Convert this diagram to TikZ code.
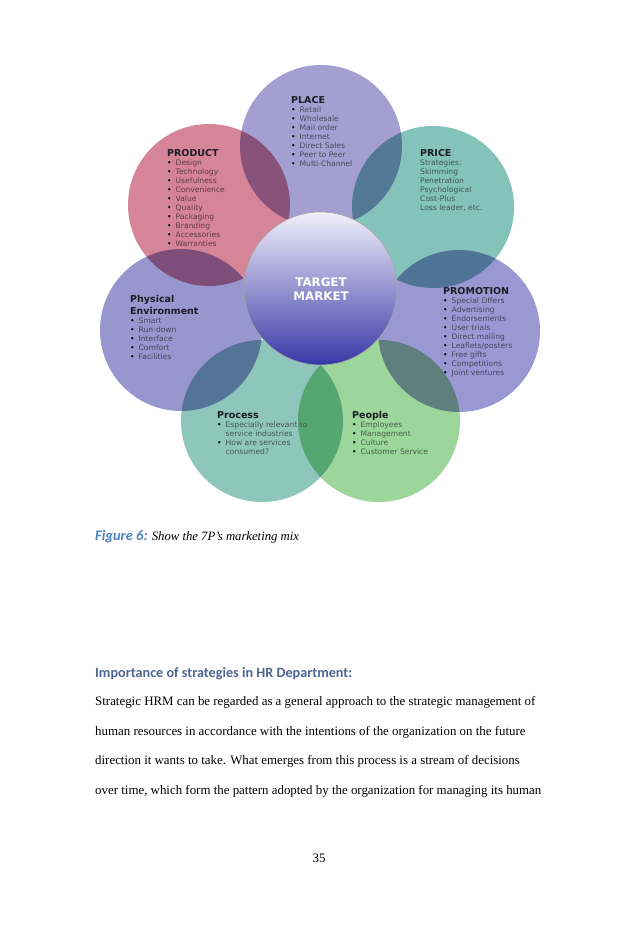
\documentclass[tikz,border=0pt]{standalone}
\usepackage{fontspec}
\setmainfont{Liberation Serif}
\newfontfamily\dejavu{DejaVu Sans}
\newfontfamily\carlito{Carlito}
\usetikzlibrary{positioning}

\definecolor{placec}{RGB}{164,159,208}
\definecolor{productc}{RGB}{214,132,152}
\definecolor{pricec}{RGB}{132,195,185}
\definecolor{promoc}{RGB}{154,152,210}
\definecolor{physc}{RGB}{152,150,206}
\definecolor{processc}{RGB}{142,198,188}
\definecolor{peoplec}{RGB}{156,214,154}
\definecolor{headc}{RGB}{28,28,36}
\definecolor{figblue}{RGB}{79,129,189}
\definecolor{secblue}{RGB}{80,100,145}

\newcommand{\hdtxt}[1]{{\color{headc}\fontsize{9.5}{9}\selectfont\bfseries #1}}
\newcommand{\hd}[1]{\multicolumn{2}{@{}l@{}}{\hdtxt{#1}}}
\newcommand{\bul}{{\color{black}\textbullet}}

\tikzset{
    petal/.style={circle, minimum size=162pt, inner sep=0pt, fill=#1},
    pblock/.style={anchor=base west, inner sep=0pt, font=\dejavu\fontsize{7.6}{9}\selectfont},
    bodyline/.style={anchor=base west, inner sep=0pt, font=\fontsize{12.9}{15}\selectfont}
}

\begin{document}
\begin{tikzpicture}[x=1pt,y=-1pt]
    \fill[white] (0,0) rectangle (638,937);
    \useasboundingbox (0,0) rectangle (638,937);

    % the seven P's
    \begin{scope}[blend mode=multiply]
        \node[petal=placec] (place) at (321,146) {};
        \node[petal=productc] (product) at (209,205) {};
        \node[petal=pricec] (price) at (433,207) {};
        \node[petal=physc] (phys) at (181,330) {};
        \node[petal=promoc] (promo) at (459,331) {};
        \node[petal=processc] (process) at (262,421) {};
        \node[petal=peoplec] (people) at (379,421) {};
    \end{scope}

    % centre
    \node[circle, minimum size=153pt, inner sep=0pt, draw=black!35, line width=0.6pt,
        top color={rgb,255:red,242;green,240;blue,250}, middle color={rgb,255:red,150;green,150;blue,214},
        bottom color={rgb,255:red,56;green,56;blue,166}] (tm) at (320.5,288.5) {};
    \node[font=\dejavu\bfseries\fontsize{11.8}{13.5}\selectfont, text=white, align=center] (tmtxt) at (321,289) {TARGET\\MARKET};

    \node[pblock, text=black!55!placec] (placetxt) at (291,103) {\begin{tabular}[t]{@{}l@{\hspace{4pt}}l@{}}
        \hd{PLACE}\\[0.6pt]
        \bul & Retail\\
        \bul & Wholesale\\
        \bul & Mail order\\
        \bul & Internet\\
        \bul & Direct Sales\\
        \bul & Peer to Peer\\
        \bul & Multi-Channel
    \end{tabular}};

    \node[pblock, text=black!55!productc] (producttxt) at (167,156) {\begin{tabular}[t]{@{}l@{\hspace{4pt}}l@{}}
        \hd{PRODUCT}\\[0.6pt]
        \bul & Design\\
        \bul & Technology\\
        \bul & Usefulness\\
        \bul & Convenience\\
        \bul & Value\\
        \bul & Quality\\
        \bul & Packaging\\
        \bul & Branding\\
        \bul & Accessories\\
        \bul & Warranties
    \end{tabular}};

    \node[pblock, text=black!55!pricec] (pricetxt) at (420,156) {\begin{tabular}[t]{@{}l@{}}
        \hdtxt{PRICE}\\[0.6pt]
        Strategies:\\
        Skimming\\
        Penetration\\
        Psychological\\
        Cost-Plus\\
        Loss leader, etc.
    \end{tabular}};

    \node[pblock, text=black!55!promoc] (promotxt) at (443,294) {\begin{tabular}[t]{@{}l@{\hspace{4pt}}l@{}}
        \hd{PROMOTION}\\[0.6pt]
        \bul & Special Offers\\
        \bul & Advertising\\
        \bul & Endorsements\\
        \bul & User trials\\
        \bul & Direct mailing\\
        \bul & Leaflets/posters\\
        \bul & Free gifts\\
        \bul & Competitions\\
        \bul & Joint ventures
    \end{tabular}};

    \node[pblock, text=black!55!physc] (phystxt) at (130,302) {\begin{tabular}[t]{@{}l@{\hspace{4pt}}l@{}}
        \hd{Physical}\\[2.6pt]
        \hd{Environment}\\[0.4pt]
        \bul & Smart\\
        \bul & Run-down\\
        \bul & Interface\\
        \bul & Comfort\\
        \bul & Facilities
    \end{tabular}};

    \node[pblock, text=black!55!processc] (processtxt) at (217,418) {\begin{tabular}[t]{@{}l@{\hspace{4pt}}l@{}}
        \hd{Process}\\[0.6pt]
        \bul & Especially relevant to\\
             & service industries\\
        \bul & How are services\\
             & consumed?
    \end{tabular}};

    \node[pblock, text=black!55!peoplec] (peopletxt) at (352,418) {\begin{tabular}[t]{@{}l@{\hspace{4pt}}l@{}}
        \hd{People}\\[0.6pt]
        \bul & Employees\\
        \bul & Management\\
        \bul & Culture\\
        \bul & Customer Service
    \end{tabular}};

    % page text
    \node[anchor=base west, inner sep=0pt, font=\fontsize{12.7}{15}\selectfont] (caption) at (95,540)
        {{\carlito\bfseries\itshape\fontsize{14.5}{15}\selectfont\color{figblue}Figure 6:} \textit{Show the 7P’s marketing mix}};
    \node[anchor=base west, inner sep=0pt, font=\carlito\bfseries\fontsize{14.2}{16}\selectfont, text=secblue] (heading) at (95,677)
        {Importance of strategies in HR Department:};
    \node[bodyline] (line1) at (95,705) {Strategic HRM can be regarded as a general approach to the strategic management of};
    \node[bodyline] (line2) at (95,735) {human resources in accordance with the intentions of the organization on the future};
    \node[bodyline] (line3) at (95,764) {direction it wants to take. What emerges from this process is a stream of decisions};
    \node[bodyline] (line4) at (95,794) {over time, which form the pattern adopted by the organization for managing its human};
    \node[anchor=base, inner sep=0pt, font=\fontsize{12.9}{15}\selectfont] (pagenum) at (319,862) {35};
\end{tikzpicture}
\end{document}
